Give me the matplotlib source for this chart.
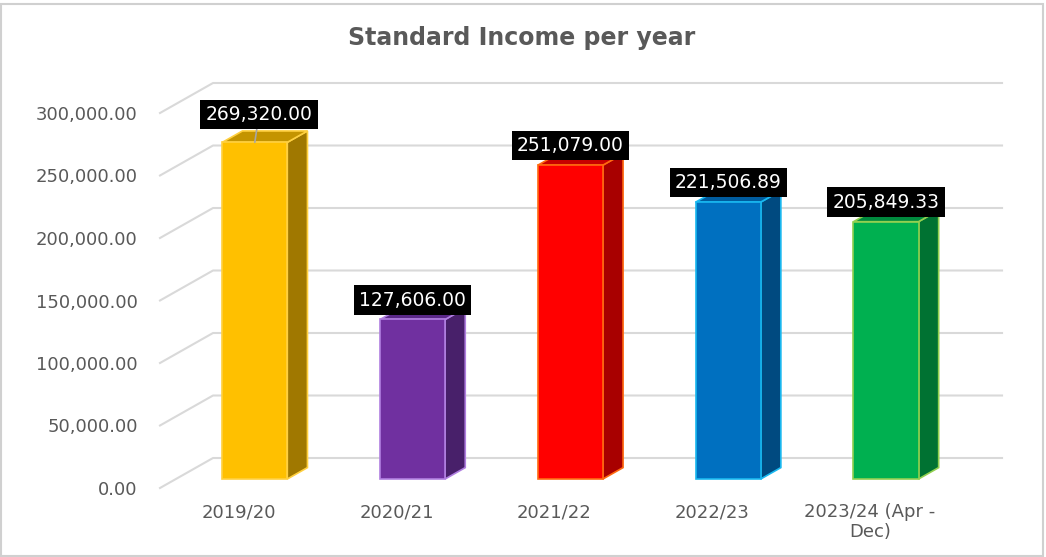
import matplotlib
matplotlib.use("Agg")
import matplotlib.pyplot as plt
from matplotlib.patches import Polygon, Rectangle

# data
years = ["2019/20", "2020/21", "2021/22", "2022/23", "2023/24 (Apr -\nDec)"]
income = [269320.00, 127606.00, 251079.00, 221506.89, 205849.33]
yticks = [0, 50000, 100000, 150000, 200000, 250000, 300000]

front_col = ["#FFC000", "#7030A0", "#FF0000", "#0070C0", "#00B050"]
side_col = ["#A07800", "#48206A", "#A80000", "#004A80", "#007232"]
top_col = ["#C49400", "#5A2888", "#C80000", "#005C9E", "#008A3E"]
edge_col = ["#FFD040", "#B07FE0", "#FF6A10", "#19B8F0", "#92D050"]

W, H = 1046, 557
TXT = "#595959"
GRID = "#D9D9D9"

fig = plt.figure(figsize=(W / 100, H / 100), dpi=100)
fig.patch.set_facecolor("white")

# front plane of the 3d box
ax = fig.add_axes([160 / W, (H - 488) / H, 789 / W, 405 / H])
ax.set_xlim(-0.5, 4.5)
ax.set_ylim(0, 324000)
for s in ax.spines.values():
    s.set_visible(False)

# oblique depth offset (full depth of the box) in data units
Dx, Dy = 0.336, 24000
d0, d1 = 0.30, 0.68      # bar depth range
bw = 0.412               # bar width

# back wall + side wall gridlines
for v in yticks:
    ax.plot([-0.5, -0.5 + Dx, 4.5 + Dx], [v, v + Dy, v + Dy],
            color=GRID, lw=1.5, clip_on=False, zorder=1)

for i, val in enumerate(income):
    xl = i - bw / 2 + d0 * Dx
    xr = i + bw / 2 + d0 * Dx
    yb = d0 * Dy
    yt = val + d0 * Dy
    ddx = (d1 - d0) * Dx
    ddy = (d1 - d0) * Dy
    side = Polygon([(xr, yb), (xr, yt), (xr + ddx, yt + ddy), (xr + ddx, yb + ddy)],
                   closed=True, fc=side_col[i], ec=edge_col[i], lw=1.2,
                   clip_on=False, zorder=3)
    top = Polygon([(xl, yt), (xr, yt), (xr + ddx, yt + ddy), (xl + ddx, yt + ddy)],
                  closed=True, fc=top_col[i], ec=edge_col[i], lw=1.2,
                  clip_on=False, zorder=3)
    front = Rectangle((xl, yb), xr - xl, yt - yb, fc=front_col[i],
                      ec=edge_col[i], lw=1.2, clip_on=False, zorder=4)
    ax.add_patch(side)
    ax.add_patch(top)
    ax.add_patch(front)

    lab = f"{val:,.2f}"
    box = dict(boxstyle="square,pad=0.28", fc="black", ec="none")
    cx = (xl + xr) / 2
    if i == 0:
        ax.annotate(lab, xy=(cx, yt), xytext=(3, 20), textcoords="offset points",
                    ha="center", va="center", color="white", fontsize=13.5,
                    bbox=box, zorder=6, annotation_clip=False,
                    arrowprops=dict(arrowstyle="-", color="#A6A6A6", lw=1.2,
                                    shrinkA=0, shrinkB=0))
    else:
        ax.annotate(lab, xy=(cx, yt), xytext=(0, 14), textcoords="offset points",
                    ha="center", va="center", color="white", fontsize=13.5,
                    bbox=box, zorder=6, annotation_clip=False)

ax.set_yticks(yticks)
ax.set_yticklabels([f"{v:,.2f}" for v in yticks])
ax.set_xticks(range(len(years)))
ax.set_xticklabels(years)
ax.tick_params(axis="y", length=0, pad=16, labelsize=13, labelcolor=TXT)
ax.tick_params(axis="x", length=0, pad=11, labelsize=13, labelcolor=TXT)
for t in ax.get_xticklabels():
    t.set_linespacing(1.1)

fig.text(522 / W, 1 - 38 / H, "Standard Income per year", ha="center",
         va="center", fontsize=17, fontweight="bold", color=TXT)

# chart border
fig.add_artist(Rectangle((1 / W, 1 / H), 1042 / W, (H - 5) / H,
                         transform=fig.transFigure, fill=False,
                         ec="#D0D0D0", lw=1.5))

fig.savefig("out.png", dpi=100)
